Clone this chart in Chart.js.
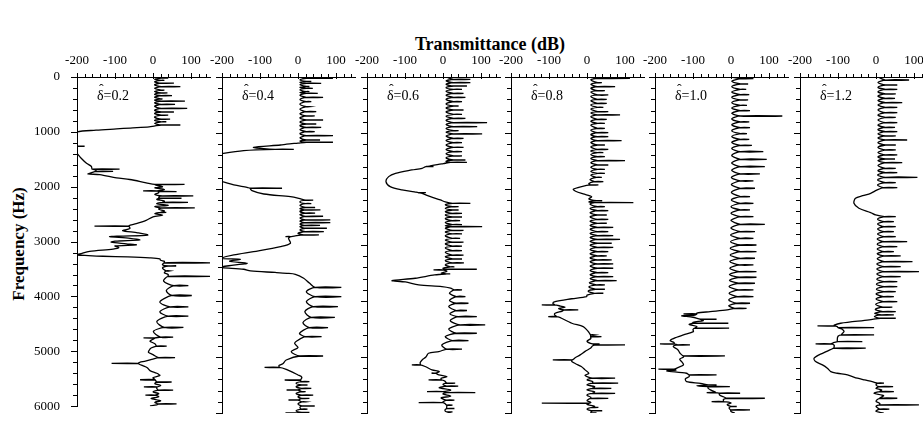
<!DOCTYPE html>
<html>
<head>
<meta charset="utf-8">
<script src="https://cdn.jsdelivr.net/npm/chart.js@4.4.0/dist/chart.umd.min.js"></script>
<style>
  body { margin: 0; background: #fff; width: 923px; height: 423px; overflow: hidden; position: relative; font-family: "Liberation Serif", serif; color: #000; }
  canvas.panel { position: absolute; top: 0; }
  #title { position: absolute; left: 340px; width: 300px; top: 34px; text-align: center; font-weight: bold; font-size: 18px; }
  #ylabel { position: absolute; left: -51px; top: 234px; width: 140px; text-align: center; font-weight: bold; font-size: 17px; transform: rotate(-90deg); }
</style>
</head>
<body>
<div id="title">Transmittance (dB)</div>
<div id="ylabel">Frequency (Hz)</div>
<canvas class="panel" id="p1" width="216" height="423" style="left:0px"></canvas>
<canvas class="panel" id="p2" width="216" height="423" style="left:145px"></canvas>
<canvas class="panel" id="p3" width="216" height="423" style="left:290px"></canvas>
<canvas class="panel" id="p4" width="216" height="423" style="left:434px"></canvas>
<canvas class="panel" id="p5" width="216" height="423" style="left:578px"></canvas>
<canvas class="panel" id="p6" width="216" height="423" style="left:723px"></canvas>
<script>
  // panel names (shape parameter)
  const deltas = ['0.2', '0.4', '0.6', '0.8', '1.0', '1.2'];

  // axis ticks
  const dbTicks = [-200, -100, 0, 100];
  const hzTicks = [0, 1000, 2000, 3000, 4000, 5000, 6000];

  // [Hz, dB] is a point of the curve, [Hz, base dB, peak dB] is a narrow resonance
  // that leaves the curve at "base" and shoots out to "peak" and back
  const d02 = [[0,4],[20,22,40],[40,4],[60,22,30],[85,4],[113,22,55],[145,4],[175,22,72],[207,4],[240,22,30],[265,4],[291,22,38],[315,4],[340,22,50],[370,4],[400,22,25],[420,4],[441,22,84],[470,4],[500,22,58],[535,4],[571,22,90],[605,4],[638,22,55],[667,4],[696,22,40],[732,4],[768,22,45],[792,4],[816,22,35],[845,4],[875,22,72],[895,3],[910,-10],[930,-60],[946,-96],[970,-150],[1000,-200],[1100,-230],[1240,-215],[1262,-205,-180],[1280,-215],[1392,-200],[1480,-189],[1571,-175],[1630,-162],[1678,-160,-88],[1700,-150],[1720,-150,-105],[1740,-160],[1767,-171],[1779,-140],[1839,-96],[1868,-61],[1928,-18],[1958,5,83],[1975,10],[2000,25],[2020,5],[2050,30],[2075,10,-26],[2089,15,62],[2110,15],[2140,5],[2166,25,106],[2190,15],[2210,20,75],[2230,10],[2260,30],[2285,25,92],[2310,10],[2340,40],[2360,5],[2386,25,110],[2410,15],[2440,30],[2469,20,35],[2490,5],[2520,25],[2550,0],[2612,-18],[2672,-44],[2700,-60],[2719,-65,-154],[2761,-61],[2800,-80],[2840,-40],[2880,-14],[2900,-90],[2910,-114],[2940,-60],[2970,-35],[2990,-100],[3010,-110],[3040,-70],[3060,-44],[3080,-100],[3110,-90],[3136,-105],[3177,-167],[3225,-193],[3240,-205],[3255,-170],[3267,-132],[3279,-66],[3296,-9],[3314,18],[3340,20],[3360,30],[3386,30,150],[3420,25],[3445,40,61],[3480,25],[3534,35,44],[3570,30],[3600,40],[3635,40,150],[3720,28],[3804,55,93],[3893,35],[3982,50,102],[4101,18],[4190,45,93],[4280,18],[4357,40,93],[4458,10],[4565,30,80],[4637,1],[4740,20,53],[4756,5,-25],[4780,0],[4815,-8],[4860,5],[4905,10,36],[4940,-5],[4980,-10],[5018,-12],[5060,0],[5113,15,58],[5140,0],[5180,-20],[5200,-35],[5220,-40,-109],[5240,-35],[5262,-27],[5300,-15],[5351,-8],[5400,10],[5441,18],[5480,0],[5518,5,-34],[5559,10,49],[5590,5],[5620,20],[5649,10,-24],[5680,10],[5708,15,53],[5740,0],[5770,15],[5798,5,-20],[5830,15],[5860,-5],[5900,20],[5930,5],[5958,15,62],[5975,10],[5994,-8]];

  const d04 = [[0,5],[23,22,92],[50,5],[80,22,35],[97,5],[113,22,61],[140,5],[170,22,30],[186,5],[202,22,39],[230,5],[260,22,30],[276,5],[292,22,52],[325,5],[363,22,66],[400,5],[440,22,35],[485,5],[530,22,31],[575,5],[619,22,48],[657,5],[696,22,44],[732,5],[768,22,66],[803,5],[839,22,48],[870,5],[899,22,61],[938,5],[976,22,44],[1012,5],[1048,22,92],[1087,5],[1125,22,58],[1145,5],[1165,22,92],[1180,0],[1200,-30],[1214,-46],[1255,-117],[1280,-90],[1291,-60,-11],[1300,-110],[1315,-143],[1362,-196],[1380,-210],[1860,-210],[1868,-200],[1928,-169],[1970,-134],[1987,-125,-42],[2029,-121],[2089,-90],[2136,-20],[2166,2],[2200,20,40],[2230,5],[2260,20,35],[2290,5],[2330,20,45],[2350,5],[2374,20,59],[2400,5],[2430,20,45],[2460,5],[2490,20,66],[2520,5],[2553,20,85],[2575,5],[2600,20,85],[2625,5],[2650,20,58],[2675,5],[2701,20,76],[2730,5],[2760,20,68],[2790,0],[2820,15,55],[2840,-10],[2850,-20,-33],[2880,-25],[2969,-20],[3029,-46],[3118,-117],[3177,-169],[3237,-200],[3255,-152],[3290,-180],[3326,-134],[3360,-170],[3398,-205],[3433,-143],[3463,-125],[3490,-60],[3505,-29],[3523,-7],[3594,15],[3680,30],[3756,45,114],[3833,22],[3923,45,114],[4012,22],[4101,40,105],[4190,18],[4292,35,97],[4387,13],[4476,30,79],[4577,4],[4637,20,62],[4700,0],[4756,-9],[4830,0],[4905,-18],[4982,5,66],[5054,-31],[5120,-40],[5150,-50],[5185,-50,-88],[5220,-31],[5321,0],[5360,10],[5411,5,-35],[5440,10,30],[5470,-5],[5500,10,25],[5530,-5],[5560,10,35],[5589,0,-30],[5620,10,20],[5650,-5],[5680,10,40],[5710,0],[5740,10,30],[5768,0,-25],[5800,10,20],[5840,0],[5875,10,44],[5900,5],[5930,10,25],[5960,-5],[5990,10,30],[6000,-33]];

  const d06 = [[0,8],[42,28,72],[70,8],[101,28,72],[130,8],[161,28,63],[190,8],[220,28,50],[255,8],[292,28,54],[325,8],[363,28,59],[400,8],[440,28,50],[480,8],[518,28,41],[555,8],[589,28,54],[625,8],[666,28,50],[700,8],[738,28,59],[775,8],[815,28,116],[850,8],[887,28,90],[920,8],[958,28,41],[985,8],[1017,28,103],[1055,8],[1095,28,54],[1135,8],[1172,28,50],[1215,8],[1255,28,54],[1295,8],[1333,28,50],[1370,8],[1410,28,50],[1445,8],[1482,28,59],[1505,8],[1523,20,63],[1540,5],[1553,-3],[1590,-35],[1600,-45,-25],[1630,-55],[1660,-82],[1720,-125],[1779,-143],[1868,-150],[1958,-139],[2017,-108],[2050,-75],[2065,-65,-45],[2080,-55],[2136,-33],[2196,-7],[2230,6],[2255,25,72],[2280,6],[2315,25,41],[2345,6],[2375,25,41],[2405,6],[2435,25,50],[2465,6],[2500,25,50],[2530,6],[2565,25,45],[2600,6],[2635,25,50],[2655,6],[2672,25,103],[2700,6],[2740,25,54],[2770,6],[2800,25,50],[2835,6],[2880,25,45],[2910,6],[2950,25,54],[2980,6],[3020,25,50],[3055,6],[3100,25,50],[3130,6],[3180,25,54],[3210,6],[3250,25,50],[3280,6],[3320,25,55],[3356,6],[3390,20,30],[3415,0],[3433,15,89],[3445,0,-25],[3470,10],[3500,-5],[3516,10,19],[3534,-22],[3594,-73],[3636,-134],[3660,-99],[3713,-64],[3743,-3],[3770,20],[3802,30,50],[3862,17],[3921,35,59],[3990,17],[4040,35,67],[4100,15],[4170,35,63],[4230,18],[4278,40,89],[4350,19],[4427,45,111],[4500,15],[4576,35,89],[4635,6],[4706,25,67],[4784,-3],[4860,10,50],[4903,-11],[4933,-38],[5000,-45],[5052,-55],[5100,-60],[5141,-60,-82],[5170,-47],[5230,-29],[5260,-10],[5290,-20,-30],[5319,-11],[5350,10],[5380,-5],[5409,-5,-38],[5430,5],[5468,10,32],[5490,0],[5520,10,40],[5550,-10],[5590,20],[5617,0,-42],[5635,10,85],[5660,0],[5700,20],[5730,-5],[5770,10,30],[5800,0],[5813,0,-64],[5830,5],[5860,10,25],[5890,10],[5920,10,30],[5950,5],[5980,10,25],[6000,20]];

  const d08 = [[0,10],[24,28,113],[50,10],[101,28,39],[130,10],[172,28,74],[200,10],[244,28,47],[270,10],[321,28,56],[350,10],[399,28,52],[425,10],[470,28,52],[500,10],[541,28,43],[570,10],[619,28,56],[645,10],[678,28,87],[710,10],[756,28,52],[790,10],[827,28,47],[860,10],[916,28,47],[950,10],[994,28,56],[1030,10],[1065,28,56],[1100,10],[1136,28,91],[1170,10],[1214,28,47],[1250,10],[1291,28,56],[1320,10],[1350,28,43],[1385,10],[1422,28,47],[1455,10],[1493,28,100],[1530,10],[1571,28,56],[1610,10],[1648,28,47],[1685,10],[1720,28,47],[1755,10],[1791,25,39],[1830,8],[1868,20,43],[1900,5],[1928,10,30],[1958,-14],[2005,-36],[2040,-30],[2089,-10],[2136,12],[2180,5],[2210,25,40],[2230,5],[2243,20,122],[2270,8],[2315,28,47],[2350,8],[2386,28,56],[2425,8],[2464,28,52],[2500,8],[2541,28,56],[2575,8],[2612,28,52],[2650,8],[2684,28,69],[2720,8],[2761,28,56],[2795,8],[2832,28,69],[2865,8],[2898,28,87],[2935,8],[2969,28,65],[3005,8],[3041,28,69],[3080,8],[3118,28,56],[3155,8],[3195,28,52],[3230,8],[3267,28,65],[3300,8],[3338,28,69],[3375,8],[3415,28,69],[3455,8],[3493,28,56],[3530,8],[3564,28,69],[3600,8],[3635,28,78],[3675,6],[3713,25,47],[3750,5],[3790,22,47],[3825,3],[3862,20,43],[3895,0],[3921,-1],[3960,-40],[4010,-84],[4040,-90],[4070,-85,-119],[4090,-70],[4111,-58],[4135,-75],[4159,-60,-23],[4180,-65],[4219,-84],[4250,-85],[4278,-80,-102],[4295,-70],[4308,-67],[4397,-40],[4457,-10],[4520,0],[4560,5],[4605,10,20],[4635,10,38],[4670,10],[4720,0],[4766,15,33],[4784,25,100],[4800,15],[4840,10],[4900,-5],[4962,-18],[5010,-30],[5052,-40,-90],[5080,-40],[5120,-30],[5170,-15],[5230,-5],[5290,5],[5330,-5],[5379,15,74],[5410,0],[5440,15],[5468,15,82],[5500,0],[5530,20],[5560,15,64],[5590,0],[5620,20],[5650,15,74],[5680,0],[5720,10],[5740,10,56],[5780,0],[5810,10],[5825,5,-119],[5845,0],[5880,20],[5900,15,30],[5930,0],[5960,15,40],[5990,10],[6000,25]];

  const d10 = [[0,2],[30,25,59],[78,2],[125,25,45],[172,2],[220,25,40],[268,2],[315,25,48],[362,2],[410,25,45],[458,2],[505,25,42],[552,2],[600,25,50],[648,2],[696,25,135],[748,2],[800,25,48],[852,2],[905,25,50],[958,2],[1010,25,42],[1062,2],[1115,25,48],[1168,2],[1220,25,55],[1276,2],[1333,25,85],[1400,2],[1470,25,94],[1535,2],[1600,25,89],[1665,2],[1731,25,76],[1795,1],[1856,25,59],[1920,1],[1987,25,63],[2060,1],[2136,25,50],[2195,1],[2255,25,59],[2315,0],[2374,25,50],[2435,0],[2494,25,59],[2560,0],[2630,25,89],[2695,0],[2761,25,63],[2820,-1],[2880,25,59],[2940,-1],[3000,25,67],[3060,-2],[3118,25,67],[3178,-2],[3237,25,63],[3296,-3],[3356,22,59],[3415,-3],[3475,22,67],[3525,-4],[3576,22,67],[3630,-4],[3683,20,63],[3742,-5],[3802,20,59],[3862,-5],[3921,18,59],[3980,-6],[4040,15,50],[4085,-6],[4130,10,41],[4160,-10],[4190,-55],[4215,-90],[4230,-90,-125],[4250,-95],[4265,-130],[4290,-100],[4326,-80,-38],[4350,-73],[4380,-100],[4397,-100,-7],[4420,-110],[4457,-90],[4486,-95,-5],[4510,-100],[4546,-99],[4605,-125],[4647,-143],[4706,-160],[4740,-150],[4766,-150,-187],[4784,-140,-108],[4814,-152],[4870,-140],[4933,-134],[4980,-125,-16],[5000,-125],[5040,-135],[5082,-130],[5140,-125],[5190,-140],[5218,-150,-191],[5235,-145],[5248,-169],[5290,-117],[5320,-110,-38],[5350,-110],[5390,-120],[5440,-117],[5470,-80],[5500,-60,-38],[5515,-90],[5530,-60,-3],[5560,-60],[5600,-50],[5635,-40,-64],[5647,-30,24],[5680,-30],[5710,-20],[5737,-10,89],[5760,-20],[5796,-20,-51],[5820,0],[5850,-10],[5884,0,15],[5910,-5],[5944,0,50],[5975,0],[6000,10]];

  const d12 = [[0,5],[54,25,87],[100,5],[143,25,56],[182,5],[220,25,56],[262,5],[303,25,52],[342,5],[381,25,50],[420,5],[458,25,69],[500,5],[541,25,56],[590,5],[637,25,56],[680,5],[720,25,52],[768,5],[815,25,56],[857,5],[899,25,50],[938,5],[976,25,56],[1015,5],[1053,25,52],[1090,5],[1125,25,82],[1170,5],[1214,25,52],[1258,5],[1303,25,52],[1348,5],[1392,25,56],[1428,5],[1464,25,50],[1497,5],[1529,25,69],[1580,5],[1630,25,52],[1670,5],[1708,25,56],[1750,4],[1791,25,109],[1838,4],[1886,25,52],[1930,4],[1975,20,56],[2020,2],[2077,-14],[2120,-35],[2166,-54],[2255,-58],[2344,-45],[2422,-14],[2463,-1],[2493,22,52],[2538,4],[2582,22,47],[2627,4],[2672,22,52],[2716,4],[2761,22,47],[2805,4],[2850,22,52],[2895,3],[2940,22,82],[2985,3],[3029,22,56],[3073,3],[3118,22,47],[3157,3],[3195,22,65],[3245,3],[3296,22,96],[3341,2],[3386,22,65],[3430,2],[3475,22,113],[3520,2],[3564,22,65],[3610,2],[3654,22,56],[3700,1],[3743,22,56],[3788,1],[3832,22,52],[3876,0],[3921,20,47],[3965,0],[4010,20,56],[4060,-1],[4111,18,43],[4150,-2],[4189,18,52],[4220,-3],[4248,15,47],[4278,-4],[4308,12,52],[4338,-18],[4397,-93],[4430,-110],[4445,-110,-154],[4457,-102],[4475,-100,-5],[4500,-90],[4546,-84],[4590,-90],[4605,-90,-5],[4630,-100],[4706,-102],[4724,-100,-36],[4740,-110],[4766,-120,-159],[4790,-110],[4843,-110,-27],[4870,-120],[4962,-150],[5022,-163],[5082,-159],[5141,-141],[5200,-128],[5260,-119],[5290,-102],[5320,-75],[5379,-49],[5410,-30],[5440,-10],[5468,5,21],[5500,0],[5530,10,45],[5560,0],[5590,15],[5617,10,47],[5650,-5],[5690,20],[5737,10,56],[5790,0],[5830,10],[5855,10,113],[5880,0],[5930,10,35],[5970,0],[6000,20]];

  const series = [d02, d04, d06, d08, d10, d12];

  Chart.defaults.font.family = '"Liberation Serif", "Times New Roman", serif';
  Chart.defaults.color = '#000';

  // turn the table into chart points; a resonance goes out to its peak and back
  function toPoints(rows) {
    const pts = [];
    rows.forEach(r => {
      pts.push({ x: r[1], y: r[0] });
      if (r.length === 3) {
        pts.push({ x: r[2], y: r[0] });
        pts.push({ x: r[1], y: r[0] });
      }
    });
    return pts;
  }

  // small tick marks on both axes plus the delta label in the corner
  const panelDecor = {
    id: 'panelDecor',
    afterDraw(chart) {
      const { ctx, chartArea, scales } = chart;
      ctx.save();
      ctx.strokeStyle = '#000';
      ctx.lineWidth = 1;
      ctx.beginPath();
      for (let v = -200; v <= 140; v += 20) {
        const x = Math.round(scales.x.getPixelForValue(v)) + 0.5;
        const major = v % 100 === 0;
        ctx.moveTo(x, chartArea.top - (major ? 4 : 3));
        ctx.lineTo(x, chartArea.top + (major ? 2 : 0));
      }
      for (let f = 0; f <= 6000; f += 200) {
        const y = Math.round(scales.y.getPixelForValue(f)) + 0.5;
        const major = f % 1000 === 0;
        ctx.moveTo(chartArea.left - (major ? 6 : 4), y);
        ctx.lineTo(chartArea.left, y);
      }
      ctx.stroke();

      // delta with a hat, then the value
      const x0 = chartArea.left + 20, y0 = chartArea.top + 19;
      ctx.fillStyle = '#000';
      ctx.font = '14px "Liberation Serif", serif';
      ctx.textBaseline = 'middle';
      ctx.textAlign = 'left';
      const dw = ctx.measureText('\u03b4').width;
      ctx.fillText('\u03b4', x0, y0);
      ctx.textAlign = 'center';
      ctx.fillText('\u02c6', x0 + dw / 2 + 1, y0 - 6);
      ctx.textAlign = 'left';
      ctx.fillText('=' + chart.data.datasets[0].label, x0 + dw, y0);
      ctx.restore();
    }
  };

  function makePanel(id, rows, delta, first) {
    new Chart(document.getElementById(id), {
      type: 'scatter',
      data: {
        datasets: [{
          label: delta,
          data: toPoints(rows),
          showLine: true,
          borderColor: '#000',
          borderWidth: 1.3,
          pointRadius: 0,
          tension: 0.3,
          clip: 0
        }]
      },
      options: {
        responsive: false,
        animation: false,
        devicePixelRatio: 1,
        layout: { padding: { top: 0, right: 6, bottom: 10, left: 0 } },
        plugins: { legend: { display: false }, tooltip: { enabled: false } },
        scales: {
          x: {
            type: 'linear',
            position: 'top',
            min: -200,
            max: 150,
            grid: { display: false },
            border: { display: true, color: '#000', width: 1 },
            afterBuildTicks: s => { s.ticks = dbTicks.map(v => ({ value: v })); },
            ticks: { padding: 1, maxRotation: 0, autoSkip: false, font: { size: 13 }, callback: v => String(v) },
            afterFit: s => { s.height = 77; }
          },
          y: {
            type: 'linear',
            reverse: true,
            min: 0,
            max: 6000,
            grid: { display: false },
            border: { display: true, color: '#000', width: 1 },
            afterBuildTicks: s => { s.ticks = hzTicks.map(v => ({ value: v })); },
            ticks: { display: first, padding: 9, autoSkip: false, font: { size: 13 }, callback: v => String(v) },
            afterFit: s => { s.width = 77; }
          }
        }
      },
      plugins: [panelDecor]
    });
  }

  series.forEach((rows, i) => makePanel('p' + (i + 1), rows, deltas[i], i === 0));
</script>
</body>
</html>
